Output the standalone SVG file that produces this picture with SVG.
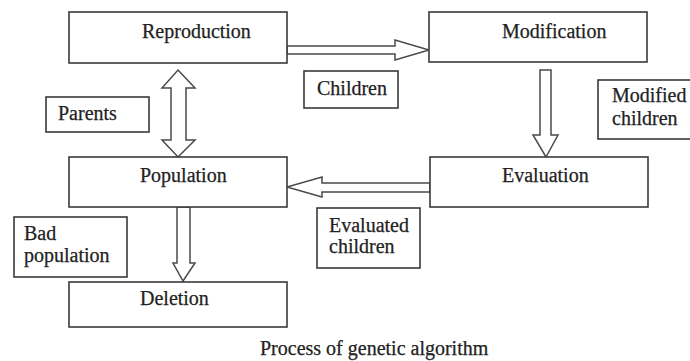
<svg xmlns="http://www.w3.org/2000/svg" width="690" height="361" viewBox="0 0 690 361">
<style>
.box{fill:#fff;stroke:#3a3a3a;stroke-width:1.6}
.arr{fill:#fff;stroke:#4a4a4a;stroke-width:1.5;stroke-linejoin:miter}
text{font-family:"Liberation Serif","Times New Roman",serif;font-size:20px;fill:#222;stroke:#222;stroke-width:0.25}
</style>
<rect width="690" height="361" fill="#fff"/>
<g id="connectors">
<polygon class="arr" points="287,46 395,46 395,40 429,50 395,60 395,54 287,54"/>
<polygon class="arr" points="540,70 551,70 551,135 558,135 546,157 533,135 540,135"/>
<polygon class="arr" points="430,183 322,183 322,177 287,187 322,197 322,192 430,192"/>
<polygon class="arr" points="178,70 195,88 186,88 186,140 195,140 178,157 162,140 171,140 171,88 162,88"/>
<polygon class="arr" points="177,207 190,207 190,263 195,263 183,281 173,263 177,263"/>
</g>
<g id="reproduction"><rect class="box" x="69" y="12" width="218" height="51"/><text x="142" y="38">Reproduction</text></g>
<g id="modification"><rect class="box" x="429" y="12" width="218" height="50"/><text x="502" y="38">Modification</text></g>
<g id="population"><rect class="box" x="69" y="157" width="218" height="50"/><text x="140" y="182">Population</text></g>
<g id="evaluation"><rect class="box" x="430" y="157" width="218" height="50"/><text x="502" y="182">Evaluation</text></g>
<g id="deletion"><rect class="box" x="69" y="282" width="218" height="45"/><text x="140" y="305">Deletion</text></g>
<g id="children"><rect class="box" x="304" y="71" width="94" height="37"/><text x="317" y="95">Children</text></g>
<g id="parents"><rect class="box" x="46" y="97" width="103" height="35"/><text x="58" y="120">Parents</text></g>
<g id="modified-children"><rect class="box" x="598" y="80" width="96" height="59"/><text x="612" y="102">Modified</text><text x="612" y="125">children</text></g>
<g id="evaluated-children"><rect class="box" x="317" y="208" width="103" height="60"/><text x="329" y="232">Evaluated</text><text x="329" y="253">children</text></g>
<g id="bad-population"><rect class="box" x="14" y="217" width="113" height="60"/><text x="24" y="240">Bad</text><text x="24" y="262">population</text></g>
<g id="caption"><text x="260" y="355">Process of genetic algorithm</text></g>
</svg>
